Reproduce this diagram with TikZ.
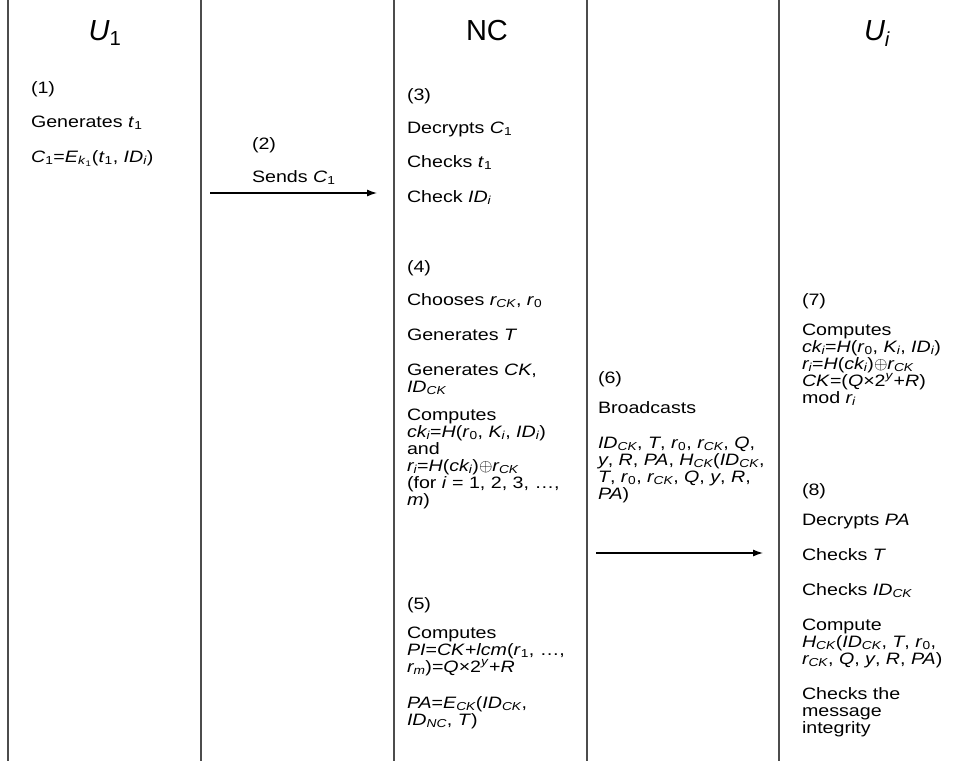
\documentclass[tikz,border=0pt]{standalone}
\usepackage{fontspec}
\setmainfont{Liberation Sans}
\newfontfamily\bodyfont{Liberation Sans}[FakeStretch=1.19]
\usetikzlibrary{arrows.meta}
\newcommand\isub[1]{\textsubscript{\itshape #1}}
\newcommand\nsub[1]{\textsubscript{#1}}
\newcommand\iv[1]{\textit{#1}}
\begin{document}
\begin{tikzpicture}[x=1pt,y=-1pt,
  lane/.style={draw=black!70,line width=1.6pt},
  txt/.style={anchor=base west,inner sep=0pt,outer sep=0pt,font=\bodyfont\fontsize{16.5}{17}\selectfont},
  head/.style={anchor=base,inner sep=0pt,font=\fontsize{29}{30}\selectfont},
  msg/.style={line width=1.2pt,-{Latex[length=10pt,width=7pt]}}]
\useasboundingbox (0,0) rectangle (967,764);
\fill[white] (0,0) rectangle (967,764);
% lifelines
\coordinate (v1t) at (8,0);   \coordinate (v1b) at (8,761);
\coordinate (v2t) at (201,0); \coordinate (v2b) at (201,761);
\coordinate (v3t) at (394,0); \coordinate (v3b) at (394,761);
\coordinate (v4t) at (587,0); \coordinate (v4b) at (587,761);
\coordinate (v5t) at (779,0); \coordinate (v5b) at (779,761);
\foreach \i in {1,...,5} \draw[lane] (v\i t) -- (v\i b);
% headings
\node[head] (hU1) at (105,40) {\iv{U}\nsub{1}};
\node[head] (hNC) at (487,40) {NC};
\node[head] (hUi) at (877,40) {\iv{U\isub{i}}};
% column 1
\node[txt] (s1) at (31,93) {(1)};
\node[txt] (s1a) at (31,127) {Generates \iv{t}\nsub{1}};
\node[txt] (s1b) at (31,162) {\iv{C}\nsub{1}=\iv{E}\textsubscript{\iv{k}\nsub{1}}(\iv{t}\nsub{1}, \iv{ID\isub{i}})};
% column 2
\node[txt] (s2) at (252,149) {(2)};
\node[txt] (s2a) at (252,182) {Sends \iv{C}\nsub{1}};
\coordinate (a1s) at (210,193);
\coordinate (a1e) at (377,193);
\draw[msg] (a1s) -- (a1e);
% column 3
\node[txt] (s3) at (407,100) {(3)};
\node[txt] (s3a) at (407,133) {Decrypts \iv{C}\nsub{1}};
\node[txt] (s3b) at (407,167) {Checks \iv{t}\nsub{1}};
\node[txt] (s3c) at (407,202) {Check \iv{ID\isub{i}}};
\node[txt] (s4) at (407,272) {(4)};
\node[txt] (s4a) at (407,305) {Chooses \iv{r\isub{CK}}, \iv{r}\nsub{0}};
\node[txt] (s4b) at (407,340) {Generates \iv{T}};
\node[txt] (s4c) at (407,375) {Generates \iv{CK},};
\node[txt] (s4d) at (407,392) {\iv{ID\isub{CK}}};
\node[txt] (s4e) at (407,420) {Computes};
\node[txt] (s4f) at (407,437) {\iv{ck\isub{i}}=\iv{H}(\iv{r}\nsub{0}, \iv{K\isub{i}}, \iv{ID\isub{i}})};
\node[txt] (s4g) at (407,454) {and};
\node[txt] (s4h) at (407,471) {\iv{r\isub{i}}=\iv{H}(\iv{ck\isub{i}})$\oplus$\iv{r\isub{CK}}};
\node[txt] (s4i) at (407,488) {(for \iv{i} = 1, 2, 3, …,};
\node[txt] (s4j) at (407,505) {\iv{m})};
\node[txt] (s5) at (407,609) {(5)};
\node[txt] (s5a) at (407,638) {Computes};
\node[txt] (s5b) at (407,655) {\iv{PI}=\iv{CK}+\iv{lcm}(\iv{r}\nsub{1}, …,};
\node[txt] (s5c) at (407,672) {\iv{r\isub{m}})=\iv{Q}×2\textsuperscript{\iv{y}}+\iv{R}};
\node[txt] (s5d) at (407,708) {\iv{PA}=\iv{E\isub{CK}}(\iv{ID\isub{CK}},};
\node[txt] (s5e) at (407,725) {\iv{ID\isub{NC}}, \iv{T})};
% column 4
\node[txt] (s6) at (598,383) {(6)};
\node[txt] (s6a) at (598,413) {Broadcasts};
\node[txt] (s6b) at (598,448) {\iv{ID\isub{CK}}, \iv{T}, \iv{r}\nsub{0}, \iv{r\isub{CK}}, \iv{Q},};
\node[txt] (s6c) at (598,465) {\iv{y}, \iv{R}, \iv{PA}, \iv{H\isub{CK}}(\iv{ID\isub{CK}},};
\node[txt] (s6d) at (598,482) {\iv{T}, \iv{r}\nsub{0}, \iv{r\isub{CK}}, \iv{Q}, \iv{y}, \iv{R},};
\node[txt] (s6e) at (598,499) {\iv{PA})};
\coordinate (a2s) at (596,553);
\coordinate (a2e) at (763,553);
\draw[msg] (a2s) -- (a2e);
% column 5
\node[txt] (s7) at (802,305) {(7)};
\node[txt] (s7a) at (802,335) {Computes};
\node[txt] (s7b) at (802,352) {\iv{ck\isub{i}}=\iv{H}(\iv{r}\nsub{0}, \iv{K\isub{i}}, \iv{ID\isub{i}})};
\node[txt] (s7c) at (802,369) {\iv{r\isub{i}}=\iv{H}(\iv{ck\isub{i}})$\oplus$\iv{r\isub{CK}}};
\node[txt] (s7d) at (802,386) {\iv{CK}=(\iv{Q}×2\textsuperscript{\iv{y}}+\iv{R})};
\node[txt] (s7e) at (802,403) {mod \iv{r\isub{i}}};
\node[txt] (s8) at (802,495) {(8)};
\node[txt] (s8a) at (802,525) {Decrypts \iv{PA}};
\node[txt] (s8b) at (802,560) {Checks \iv{T}};
\node[txt] (s8c) at (802,595) {Checks \iv{ID\isub{CK}}};
\node[txt] (s8d) at (802,630) {Compute};
\node[txt] (s8e) at (802,647) {\iv{H\isub{CK}}(\iv{ID\isub{CK}}, \iv{T}, \iv{r}\nsub{0},};
\node[txt] (s8f) at (802,664) {\iv{r\isub{CK}}, \iv{Q}, \iv{y}, \iv{R}, \iv{PA})};
\node[txt] (s8g) at (802,699) {Checks the};
\node[txt] (s8h) at (802,716) {message};
\node[txt] (s8i) at (802,733) {integrity};
\end{tikzpicture}
\end{document}
